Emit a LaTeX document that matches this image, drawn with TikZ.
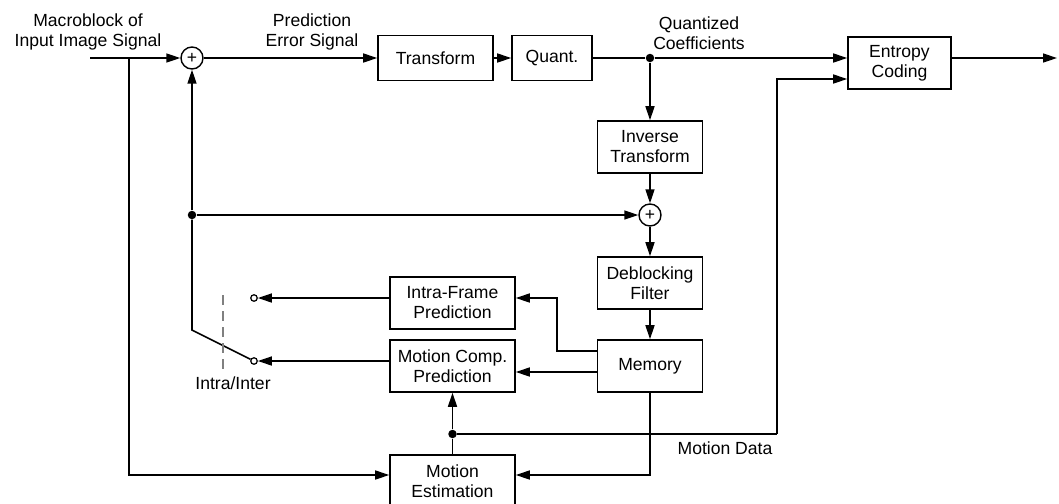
\documentclass[tikz,border=0pt]{standalone}
\usepackage{fontspec}
\setmainfont{Liberation Sans}
\usetikzlibrary{arrows.meta,calc}

\begin{document}
\begin{tikzpicture}[font=\fontsize{10}{11.4}\selectfont]
            \tikzset{
              blk/.style={draw,line width=0.9pt,minimum width=2.1cm,minimum height=1.04cm,align=center,inner sep=1pt},
              sum/.style={draw,circle,line width=0.8pt,minimum size=4.4mm,inner sep=0pt},
              dot/.style={circle,fill,minimum size=1.7mm,inner sep=0pt},
              contact/.style={draw,circle,line width=0.7pt,minimum size=1.3mm,inner sep=0pt,fill=white},
              lbl/.style={align=center,inner sep=1pt},
              wire/.style={line width=0.9pt},
              sig/.style={wire,-{Triangle[length=2.8mm,width=1.8mm]}}
            };
            \useasboundingbox (0,0) rectangle (21.18,-10.06);

            \coordinate (in) at (1.8,-1.16);
            \coordinate (split) at (2.58,-1.16);
            \node[sum] (sum1) at (3.84,-1.16) {+};
            \node[blk,minimum width=2.3cm,minimum height=0.9cm] (trans) at (8.71,-1.16) {Transform};
            \node[blk,minimum width=1.6cm,minimum height=0.9cm] (quant) at (11.04,-1.16) {Quant.};
            \node[dot] (qdot) at (13.0,-1.16) {};
            \node[blk,minimum width=2.06cm] (entropy) at (17.99,-1.26) {Entropy\\Coding};
            \coordinate (out) at (21.14,-1.16);

            \node[blk] (inv) at (13.0,-2.94) {Inverse\\Transform};
            \node[sum] (sum2) at (13.0,-4.3) {+};
            \node[dot] (fbdot) at (3.84,-4.3) {};
            \node[blk] (deblock) at (13.0,-5.66) {Deblocking\\Filter};
            \node[blk] (mem) at (13.0,-7.32) {Memory};

            \node[blk,minimum width=2.5cm] (intra) at (9.05,-6.06) {Intra-Frame\\Prediction};
            \node[blk,minimum width=2.5cm] (mc) at (9.05,-7.32) {Motion Comp.\\Prediction};
            \node[blk,minimum width=2.5cm] (me) at (9.05,-9.62) {Motion\\Estimation};
            \node[dot] (mvdot) at (9.05,-8.68) {};
            \coordinate (mvturn) at (15.54,-8.68);

            \coordinate (pivot) at (3.84,-6.6);
            \node[contact] (cintra) at (5.08,-5.96) {};
            \node[contact] (cinter) at (5.08,-7.22) {};

            % labels
            \node[lbl,anchor=south] (lin) at (1.76,-1.04) {Macroblock of\\Input Image Signal};
            \node[lbl,anchor=south] (lerr) at (6.24,-1.04) {Prediction\\Error Signal};
            \node[lbl,anchor=south] (lcoef) at (13.98,-1.04) {Quantized\\Coefficients};
            \node[lbl] (lmv) at (14.5,-8.96) {Motion Data};
            \node[lbl] (lsw) at (4.66,-7.66) {Intra/Inter};

            % forward path
            \draw[sig] (in) -- (sum1);
            \draw[sig] (sum1) -- (trans);
            \draw[sig] (trans) -- (quant);
            \draw[wire] (quant) -- (qdot);
            \draw[sig] (qdot) -- (qdot -| entropy.west);
            \draw[sig] (entropy.east |- out) -- (out);

            % reconstruction loop
            \draw[sig] (qdot) -- (inv);
            \draw[sig] (inv) -- (sum2);
            \draw[sig] (fbdot) -- (sum2);
            \draw[sig] (sum2) -- (deblock);
            \draw[sig] (deblock) -- (mem);
            \draw[sig] ([yshift=3mm]mem.west) -- ++(-0.8,0) |- ([yshift=1mm]intra.east);
            \draw[sig] ([yshift=-1.2mm]mem.west) -- ([yshift=-1.2mm]mc.east);
            \draw[sig] (mem.south) |- ([yshift=1.2mm]me.east);

            % switch
            \draw[sig] ([yshift=1mm]intra.west) -- (cintra);
            \draw[sig] ([yshift=1mm]mc.west) -- (cinter);
            \draw[wire] (cinter) -- (pivot) -- (fbdot);
            \draw[sig] (fbdot) -- (sum1);
            \draw[line width=0.8pt,gray,dash pattern=on 2mm off 1.2mm] (4.46,-5.9) -- (4.46,-7.46);

            % motion estimation
            \draw[sig] (split) |- ([yshift=1.2mm]me.west);
            \draw[wire] (me.north -| mvdot) -- (mvdot);
            \draw[sig] (mvdot) -- (mc.south -| mvdot);
            \draw[wire] (mvdot) -- (mvturn);
            \draw[sig] (mvturn) |- ([yshift=-3.2mm]entropy.west);
\end{tikzpicture}
\end{document}
